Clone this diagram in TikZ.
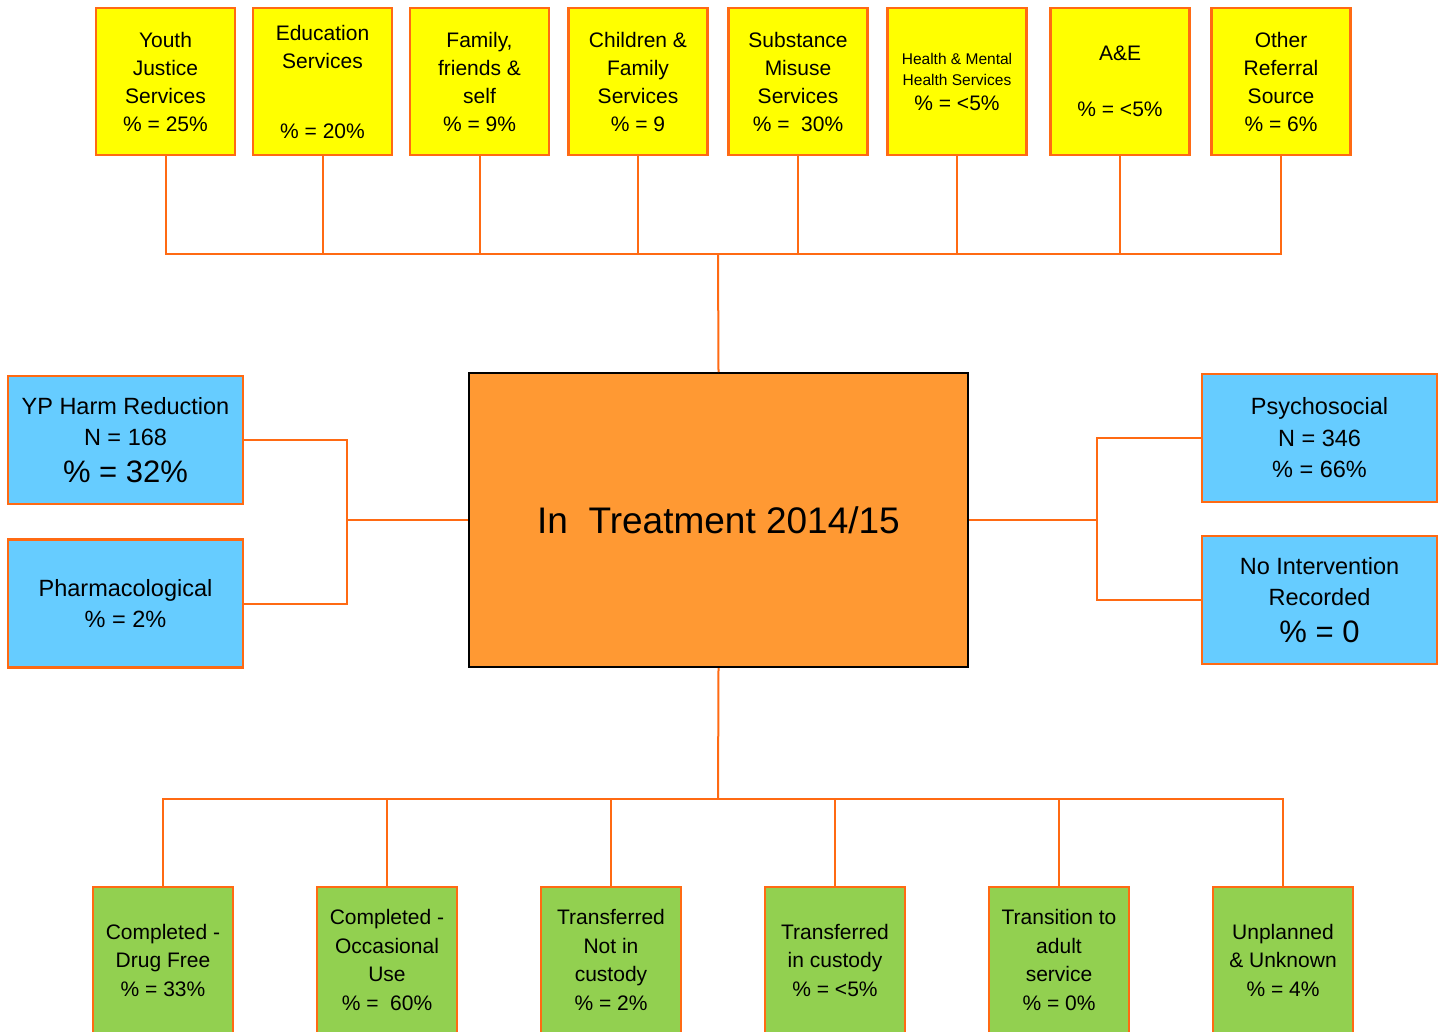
\documentclass[tikz,border=0pt]{standalone}
\usepackage{fontspec}
\setmainfont{Liberation Sans}
\definecolor{refyellow}{HTML}{FFFF00}
\definecolor{refblue}{HTML}{66CCFF}
\definecolor{refgreen}{HTML}{92D050}
\definecolor{reforange}{HTML}{FF9933}
\definecolor{refline}{HTML}{FF6A13}
\begin{document}
\begin{tikzpicture}[x=1pt,y=-1pt,
   source/.style={draw=refline,line width=2.2pt,fill=refyellow,minimum width=139pt,minimum height=147pt,inner sep=0pt,align=center,font=\fontsize{21}{28}\selectfont},
   route/.style={draw=refline,line width=2.2pt,fill=refblue,minimum width=235pt,minimum height=128pt,inner sep=0pt,align=center,font=\fontsize{23.5}{31.5}\selectfont},
   outcome/.style={draw=refline,line width=2.2pt,fill=refgreen,minimum width=140pt,minimum height=146pt,inner sep=0pt,align=center,font=\fontsize{21}{28.5}\selectfont},
   link/.style={draw=refline,line width=2pt}]
   \useasboundingbox (0,0) rectangle (1442,1032);
   \clip (0,0) rectangle (1442,1032);

   \node[source] (yj) at (165.5,81.5) {Youth\\Justice\\Services\\\% = 25\%};
   \node[source] (ed) at (322.5,81.5) {Education\\Services\\[42pt]\% = 20\%};
   \node[source] (ff) at (479.5,81.5) {Family,\\friends \&\\self\\\% = 9\%};
   \node[source] (cf) at (638,81.5) {Children \&\\Family\\Services\\\% = 9};
   \node[source] (sm) at (798,81.5) {Substance\\Misuse\\Services\\\% =\ \ 30\%};
   \node[source] (hm) at (957,81.5) {{\fontsize{15.5}{21}\selectfont Health \& Mental}\\[-7pt]{\fontsize{15.5}{21}\selectfont Health Services}\\[-3pt]\% = <5\%};
   \node[source] (ae) at (1120,81.5) {A\&E\\[28pt]\% = <5\%};
   \node[source] (ot) at (1281,81.5) {Other\\Referral\\Source\\\% = 6\%};

   \node[draw=black,line width=2pt,fill=reforange,minimum width=499pt,minimum height=294pt,inner sep=0pt,font=\fontsize{37}{44}\selectfont] (treat) at (718.5,520) {In\ \ Treatment 2014/15};

   \node[route] (harm) at (125.5,440) {YP Harm Reduction\\N = 168\\[5pt]{\fontsize{31}{36}\selectfont \% = 32\%}};
   \node[route] (pharm) at (125.5,603.5) {Pharmacological\\\% = 2\%};
   \node[route] (psy) at (1319.5,438) {Psychosocial\\N = 346\\\% = 66\%};
   \node[route] (noint) at (1319.5,600) {No Intervention\\Recorded\\[5pt]{\fontsize{31}{36}\selectfont \% = 0}};

   \node[outcome] (df) at (163,960) {Completed -\\Drug Free\\\% = 33\%};
   \node[outcome] (ou) at (387,960) {Completed -\\Occasional\\Use\\\% =\ \ 60\%};
   \node[outcome] (nc) at (611,960) {Transferred\\Not in\\custody\\\% = 2\%};
   \node[outcome] (ic) at (835,960) {Transferred\\in custody\\\% = <5\%};
   \node[outcome] (ad) at (1059,960) {Transition to\\adult\\service\\\% = 0\%};
   \node[outcome] (un) at (1283,960) {Unplanned\\\& Unknown\\\% = 4\%};

   \coordinate (topbus) at (718,254);
   \coordinate (leftbus) at (347,520);
   \coordinate (rightbus) at (1097,520);
   \coordinate (lowbus) at (718,799);

   \draw[link] (yj.south) |- (topbus) -| (ot.south);
   \foreach \n in {ed,ff,cf,sm,hm,ae}
      \draw[link] (\n.south) -- (\n.south |- topbus);
   \draw[link] (topbus) -- (treat.north);

   \draw[link] (harm.east) -| (leftbus) |- (pharm.east);
   \draw[link] (leftbus) -- (treat.west);
   \draw[link] (psy.west) -| (rightbus) |- (noint.west);
   \draw[link] (rightbus) -- (treat.east);

   \draw[link] (treat.south) -- (lowbus);
   \draw[link] (df.north) |- (lowbus) -| (un.north);
   \foreach \n in {ou,nc,ic,ad}
      \draw[link] (\n.north) -- (\n.north |- lowbus);
\end{tikzpicture}
\end{document}
